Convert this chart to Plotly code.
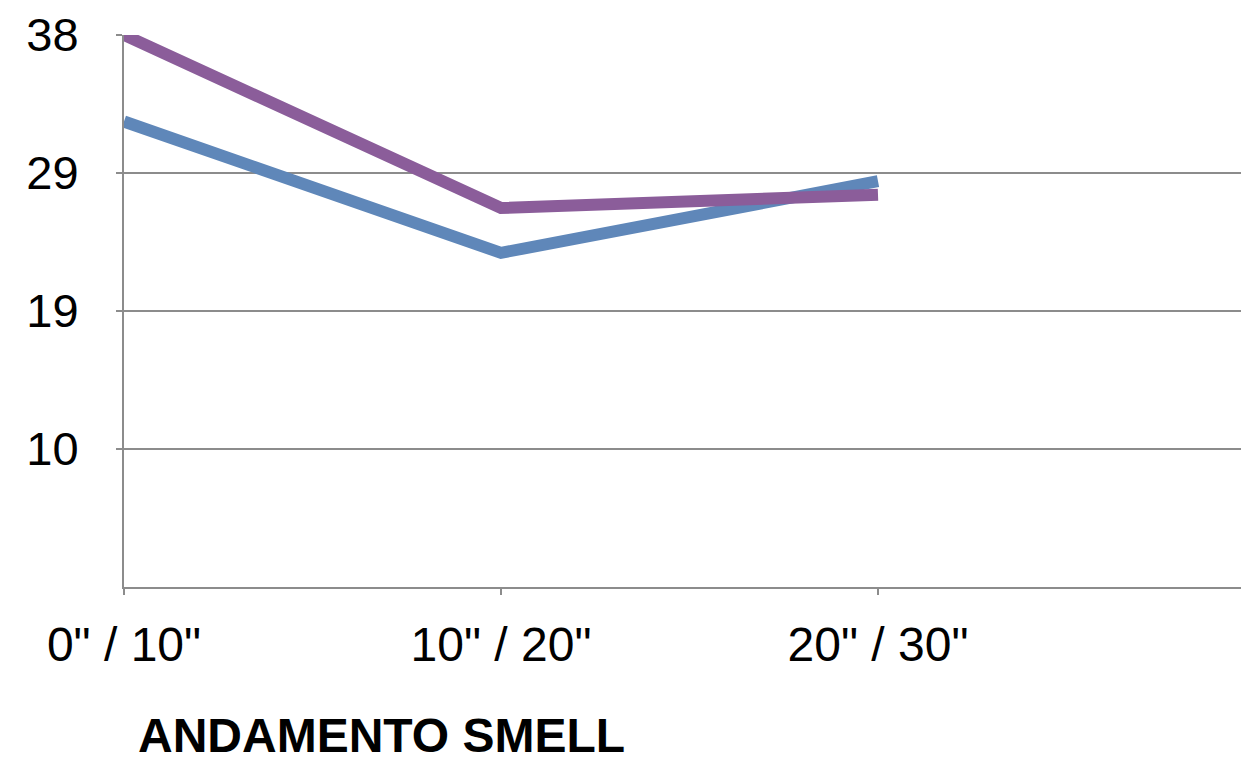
import plotly.graph_objects as go

# Time windows on the x axis
categories = ['0" / 10"', '10" / 20"', '20" / 30"']

# Two measured series
series_purple = [38.0, 26.4, 27.3]
series_blue = [32.2, 23.4, 28.2]

# Value axis: bottom at 1, gridlines every 9.25 units, labels rounded
y_min = 1.0
y_tick_values = [10.25, 19.5, 28.75, 38.0]
y_tick_labels = ["10", "19", "29", "38"]

chart_title = "ANDAMENTO SMELL"

x_index = list(range(len(categories)))
grid_color = "#8c8c8c"
font_family = "Liberation Sans, Arial, Helvetica, sans-serif"

fig = go.Figure()
fig.add_trace(go.Scatter(
    x=x_index, y=series_blue, mode="lines",
    line=dict(color="#5f87b9", width=12),
    showlegend=False, hoverinfo="skip",
))
fig.add_trace(go.Scatter(
    x=x_index, y=series_purple, mode="lines",
    line=dict(color="#8b5d9a", width=12),
    showlegend=False, hoverinfo="skip",
))

plot_left, plot_right = 124, 1241
plot_top, plot_bottom = 35, 587
cat_step = 377.0
x_max = (plot_right - plot_left) / cat_step

fig.update_layout(
    width=1241, height=766,
    margin=dict(l=plot_left, r=0, t=plot_top, b=766 - plot_bottom),
    paper_bgcolor="white", plot_bgcolor="white",
    font=dict(family=font_family, color="black"),
    xaxis=dict(
        range=[0, x_max],
        tickmode="array", tickvals=x_index, ticktext=categories,
        tickfont=dict(size=48, family=font_family, color="black"),
        ticks="outside", ticklen=6, tickwidth=2, tickcolor=grid_color,
        ticklabelstandoff=8,
        showgrid=False, zeroline=False,
        showline=True, linecolor=grid_color, linewidth=2,
    ),
    yaxis=dict(
        range=[y_min, 38.0],
        tickmode="array", tickvals=y_tick_values, ticktext=y_tick_labels,
        tickfont=dict(size=47, family=font_family, color="black"),
        ticks="outside", ticklen=6, tickwidth=2, tickcolor=grid_color,
        ticklabelstandoff=28,
        showgrid=True, gridcolor=grid_color, gridwidth=2,
        zeroline=False,
        showline=True, linecolor=grid_color, linewidth=2,
    ),
    annotations=[dict(
        text="<b>" + chart_title + "</b>",
        xref="paper", yref="paper", x=(136 - plot_left) / (plot_right - plot_left),
        y=-(735 - plot_bottom) / (plot_bottom - plot_top),
        xanchor="left", yanchor="middle", showarrow=False,
        font=dict(size=48, family=font_family, color="black"),
    )],
)

fig.write_html("out.html")
